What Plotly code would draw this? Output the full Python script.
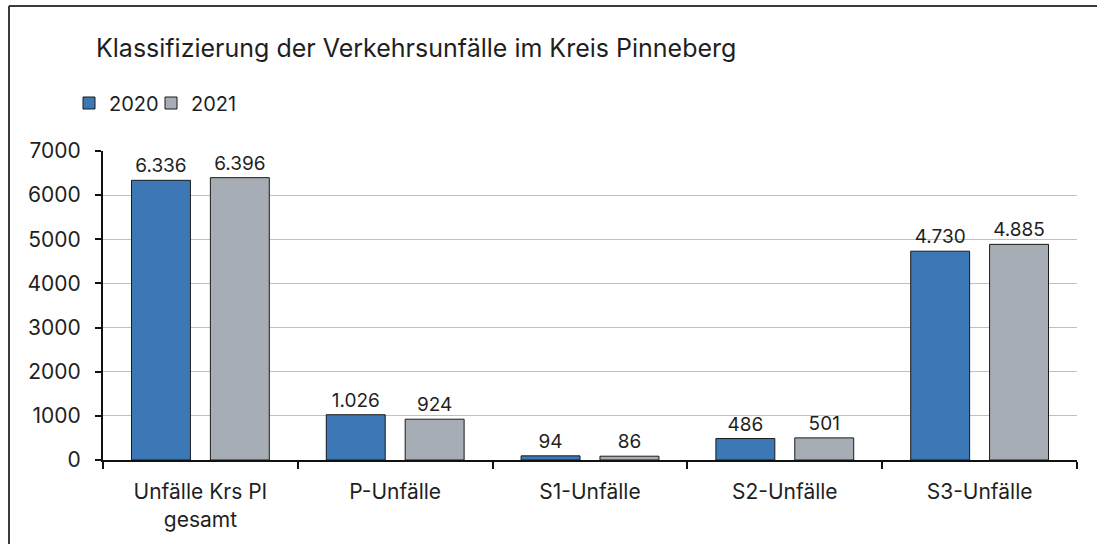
import plotly.graph_objects as go

categories = ["Unfälle Krs PI<br>gesamt", "P-Unfälle", "S1-Unfälle", "S2-Unfälle", "S3-Unfälle"]
values_2020 = [6336, 1026, 94, 486, 4730]
values_2021 = [6396, 924, 86, 501, 4885]
labels_2020 = ["6.336", "1.026", "94", "486", "4.730"]
labels_2021 = ["6.396", "924", "86", "501", "4.885"]
y_ticks = [0, 1000, 2000, 3000, 4000, 5000, 6000, 7000]

FONT = "Inter, Lato, sans-serif"
TXT = "#1f1f1f"

fig = go.Figure()
fig.add_trace(go.Bar(
    name="2020", x=categories, y=values_2020, text=labels_2020,
    textposition="outside", cliponaxis=False, legend="legend",
    marker=dict(color="#3C78B6", line=dict(color="#1a1a1a", width=1)),
    textfont=dict(size=19, color=TXT, family=FONT),
))
fig.add_trace(go.Bar(
    name="2021", x=categories, y=values_2021, text=labels_2021,
    textposition="outside", cliponaxis=False, legend="legend2",
    marker=dict(color="#A6ADB5", line=dict(color="#1a1a1a", width=1)),
    textfont=dict(size=19, color=TXT, family=FONT),
))

L, R, T, B = 103, 20, 151, 84
W, H = 1097, 544
pw = W - L - R
ph = H - T - B

legend_common = dict(orientation="h", xanchor="left",
                     y=1 + (T - 103) / ph, yanchor="middle",
                     font=dict(size=20, color=TXT, family=FONT),
                     bgcolor="rgba(0,0,0,0)")

fig.update_layout(
    width=W, height=H,
    margin=dict(l=L, r=R, t=T, b=B),
    paper_bgcolor="white", plot_bgcolor="white",
    font=dict(family=FONT, color=TXT, size=19),
    barmode="group", bargap=0.19, bargroupgap=0.253,
    title=dict(text="Klassifizierung der Verkehrsunfälle im Kreis Pinneberg",
               x=96 / W, xanchor="left", y=1 - 48 / H, yanchor="middle",
               font=dict(size=25, color=TXT, family=FONT)),
    legend=dict(x=(69 - L) / pw, **legend_common),
    legend2=dict(x=(151 - L) / pw, **legend_common),
    showlegend=True,
    xaxis=dict(showline=True, linecolor="#111", linewidth=2,
               ticks="outside", tickson="boundaries", ticklen=7, tickwidth=2,
               tickcolor="#111", tickfont=dict(size=21, color=TXT, family=FONT),
               ticklabelstandoff=12, showgrid=False),
    yaxis=dict(range=[0, 7000], tickvals=y_ticks, showline=True, linecolor="#111",
               linewidth=2, ticks="outside", ticklen=6, tickwidth=2, tickcolor="#111",
               showgrid=True, gridcolor="#BAC1CC", gridwidth=1,
               ticklabelstandoff=10,
               tickfont=dict(size=21, color=TXT, family=FONT), zeroline=False),
)

# chart frame (left and top edge visible)
fx = (9 - L) / pw
fy = 1 + (T - 6) / ph
fig.add_shape(type="line", xref="paper", yref="paper", x0=fx, x1=fx, y0=-2, y1=fy,
              line=dict(color="#3a3a3a", width=2))
fig.add_shape(type="line", xref="paper", yref="paper", x0=fx, x1=1.05, y0=fy, y1=fy,
              line=dict(color="#3a3a3a", width=2))

fig.write_html("out.html", config={"displayModeBar": False},
               post_script="document.body.style.margin='0';")
